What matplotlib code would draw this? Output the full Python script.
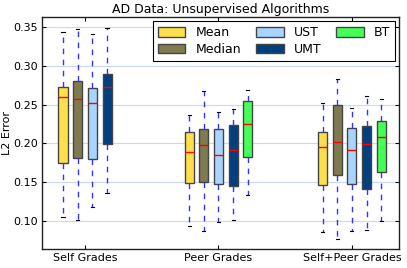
import numpy as np
import matplotlib
matplotlib.use("Agg")
import matplotlib.pyplot as plt
from matplotlib.patches import Patch

groups = ["Self Grades", "Peer Grades", "Self+Peer Grades"]
methods = ["Mean", "Median", "UST", "UMT", "BT"]
colors = ["#ffe04a", "#7f7a4f", "#a8d4ff", "#004080", "#44ff55"]

# per group, per method: (low whisker, Q1, median, Q3, high whisker); None = missing
self_grades = [
    (0.1060, 0.1752, 0.2603, 0.2731, 0.3436),
    (0.1017, 0.1808, 0.2577, 0.2799, 0.3470),
    (0.1188, 0.1800, 0.2526, 0.2714, 0.3410),
    (0.1359, 0.1991, 0.2731, 0.2889, 0.3479),
    None,
]
peer_grades = [
    (0.0940, 0.1487, 0.1889, 0.2141, 0.2372),
    (0.0880, 0.1509, 0.1974, 0.2184, 0.2671),
    (0.0991, 0.1474, 0.1855, 0.2192, 0.2406),
    (0.1013, 0.1449, 0.1915, 0.2235, 0.2449),
    (0.1338, 0.1829, 0.2244, 0.2551, 0.2692),
]
self_peer_grades = [
    (0.0863, 0.1466, 0.1953, 0.2150, 0.2526),
    (0.0774, 0.1594, 0.2013, 0.2500, 0.2833),
    (0.0876, 0.1483, 0.1919, 0.2197, 0.2457),
    (0.0889, 0.1415, 0.1996, 0.2222, 0.2611),
    (0.1000, 0.1632, 0.2077, 0.2286, 0.2573),
]
all_data = [self_grades, peer_grades, self_peer_grades]

plt.rcParams['font.family'] = 'DejaVu Sans'
fig = plt.figure(figsize=(4.07, 2.68), dpi=100)
ax = fig.add_axes([0.104, 0.070, 0.876, 0.865])

step = 0.11
width = 0.068
for gi, gdata in enumerate(all_data):
    present = [i for i, d in enumerate(gdata) if d is not None]
    n = len(present)
    for k, mi in enumerate(present):
        lo, q1, med, q3, hi = gdata[mi]
        pos = gi + 1 + (k - (n - 1) / 2.0) * step
        st = dict(whislo=lo, q1=q1, med=med, q3=q3, whishi=hi, fliers=[])
        bp = ax.bxp([st], positions=[pos], widths=width, patch_artist=True,
                    showfliers=False,
                    boxprops=dict(facecolor=colors[mi], edgecolor='#444444', linewidth=1.0),
                    whiskerprops=dict(color='#3333ff', linestyle=(0, (4, 4)), linewidth=1.0),
                    capprops=dict(color='black', linewidth=0.8),
                    medianprops=dict(color='red', linewidth=1.0),
                    manage_ticks=False)
        bp['caps'][0].set_xdata([pos - 0.012, pos + 0.012])
        bp['caps'][1].set_xdata([pos - 0.012, pos + 0.012])

ax.set_xlim(0.68, 3.352)
ax.set_ylim(0.064, 0.362)
ax.set_xticks([1, 2, 3])
ax.set_xticklabels(groups, fontsize=8)
ax.set_yticks([0.10, 0.15, 0.20, 0.25, 0.30, 0.35])
ax.set_yticklabels(['0.10', '0.15', '0.20', '0.25', '0.30', '0.35'], fontsize=8)
ax.tick_params(direction='in', top=True, right=True, length=3, pad=3)
ax.yaxis.grid(True, color='#c8d8f8', linewidth=0.8, linestyle='-')
ax.set_axisbelow(True)
for s in ax.spines.values():
    s.set_linewidth(1.0)
    s.set_color('#222222')

ax.set_ylabel('L2 Error', fontsize=8)
ax.yaxis.set_label_coords(-0.085, 0.5)
ax.set_title('AD Data: Unsupervised Algorithms', fontsize=9, pad=3)

handles = [Patch(facecolor=c, edgecolor='#444444', label=m) for c, m in zip(colors, methods)]
leg = ax.legend(handles=handles, ncol=3, loc='upper right', fontsize=9,
                fancybox=False, framealpha=1, edgecolor='black',
                handlelength=2.2, handleheight=0.8, columnspacing=1.2,
                borderaxespad=0.3, labelspacing=0.3)
leg.get_frame().set_linewidth(0.8)

fig.savefig('out.png', dpi=100)
